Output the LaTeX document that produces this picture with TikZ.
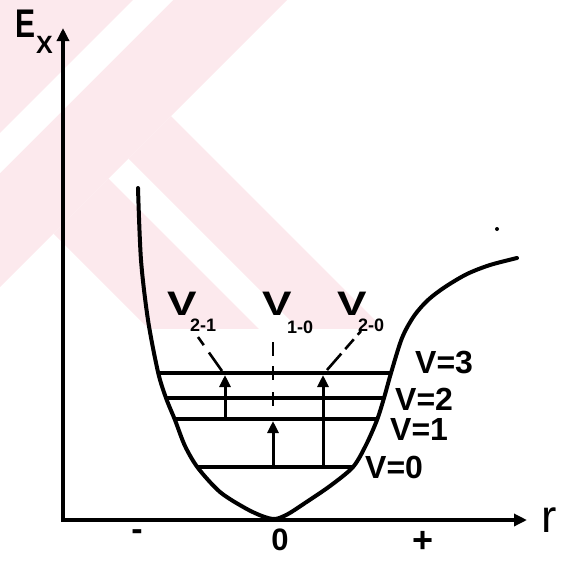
\documentclass[tikz,border=0pt]{standalone}
\usepackage{fontspec}
\usepackage{graphicx}
\setmainfont{Liberation Sans}
\usetikzlibrary{arrows.meta}
\definecolor{wmpink}{RGB}{252,233,237}
\begin{document}
\begin{tikzpicture}[x=1pt,y=-1pt,
  axisline/.style={line width=3.5pt,line join=miter,
    {Triangle[length=13pt,width=12pt]}-{Triangle[length=13pt,width=12pt]}},
  curveline/.style={line width=4pt,line join=round,line cap=round},
  level/.style={line width=3.4pt},
  upar/.style={line width=3pt,-{Triangle[length=12pt,width=11pt]}},
  dashline/.style={line width=2.6pt},
  big/.style={inner sep=0pt,font=\fontsize{32}{36}\selectfont\bfseries},
  bigv/.style={inner sep=0pt,font=\fontsize{34}{38}\selectfont\bfseries},
  small/.style={inner sep=0pt,font=\fontsize{18}{20}\selectfont\bfseries},
  tick/.style={inner sep=0pt,font=\fontsize{34}{38}\selectfont\bfseries,anchor=base}
]
\useasboundingbox (0,0) rectangle (565,560);
% watermark
\begin{scope}
  \clip (0,0) rectangle (565,328);
  \fill[wmpink] (0,0) -- (287,0) -- (0,287) -- cycle;
  \fill[white] (133,0) -- (173,0) -- (0,173) -- (0,133) -- cycle;
  \fill[wmpink] (171,116) -- (433,378) -- (348,378) -- (128.5,158.5) -- cycle;
  \fill[wmpink] (108.5,178.5) -- (308.5,378.5) -- (253.5,433.5) -- (53.5,233.5) -- cycle;
\end{scope}
% axes
\coordinate (ytop) at (63,28);
\coordinate (origin) at (63,520);
\coordinate (xend) at (527,520);
\draw[axisline] (ytop) -- (origin) -- (xend);
% potential curve
\draw[curveline] plot[smooth,tension=0.5] coordinates {
 (138,188) (141,260) (148,320) (158,372) (166,398) (175,420) (185,446) (198,468)
 (220,492) (245,508) (262,516) (275,519) (288,514) (305,503) (330,486)
 (353,467) (366,445) (377,420) (384,398) (391,373) (402,338) (414,316) (428,300)
 (445,287) (467,274) (490,265) (517,258)};
% levels
\coordinate (l3a) at (158,373); \coordinate (l3b) at (391,373);
\coordinate (l2a) at (166,398); \coordinate (l2b) at (384,398);
\coordinate (l1a) at (175,419); \coordinate (l1b) at (377,419);
\coordinate (l0a) at (198,467); \coordinate (l0b) at (354,467);
\draw[level] (l3a) -- (l3b);
\draw[level] (l2a) -- (l2b);
\draw[level] (l1a) -- (l1b);
\draw[level] (l0a) -- (l0b);
% transition arrows
\coordinate (a1s) at (225,419); \coordinate (a1e) at (225,375);
\coordinate (a2s) at (273,467); \coordinate (a2e) at (273,421);
\coordinate (a3s) at (323,467); \coordinate (a3e) at (323,375);
\draw[upar] (a1s) -- (a1e);
\draw[upar] (a2s) -- (a2e);
\draw[upar] (a3s) -- (a3e);
% dashed leaders
\coordinate (d1s) at (198,337); \coordinate (d1e) at (222,371);
\coordinate (d2s) at (273,342); \coordinate (d2e) at (273,412);
\coordinate (d3s) at (361,331); \coordinate (d3e) at (327,370);
\draw[dashline,dash pattern=on 10pt off 9pt on 24pt] (d1s) -- (d1e);
\draw[dashline,dash pattern=on 14pt off 10pt on 14pt off 12pt] (d2s) -- (d2e);
\draw[dashline,dash pattern=on 5pt off 6pt on 13pt off 6pt on 22pt] (d3s) -- (d3e);
% labels
\node[inner sep=0pt,anchor=base west,font=\fontsize{40}{44}\selectfont\bfseries] (E) at (15,37) {\scalebox{0.75}[1]{E}};
\node[inner sep=0pt,anchor=base west,font=\fontsize{25}{28}\selectfont\bfseries] (Ex) at (36,53) {X};
\node[bigv,anchor=base west] (V21) at (167,315) {\scalebox{1.3}[1]{V}};
\node[small,anchor=base west] (s21) at (190,331) {2-1};
\node[bigv,anchor=base west] (V10) at (262,315) {\scalebox{1.3}[1]{V}};
\node[small,anchor=base west] (s10) at (287,333) {1-0};
\node[bigv,anchor=base west] (V20) at (337,315) {\scalebox{1.3}[1]{V}};
\node[small,anchor=base west] (s20) at (358,331) {2-0};
\node[big,anchor=base west] (n3) at (415,373) {V=3};
\node[big,anchor=base west] (n2) at (395,410) {V=2};
\node[big,anchor=base west] (n1) at (390,440) {V=1};
\node[big,anchor=base west] (n0) at (365,478) {V=0};
\node[tick] (minus) at (137,540) {-};
\node[tick,font=\fontsize{31}{34}\selectfont\bfseries] (zero) at (280,550) {0};
\node[tick,font=\fontsize{36}{40}\selectfont\bfseries] (plus) at (423,552) {+};
\node[tick,font=\fontsize{46}{50}\selectfont] (r) at (549,532) {r};
\fill (497,229) circle (2pt);
\end{tikzpicture}
\end{document}
